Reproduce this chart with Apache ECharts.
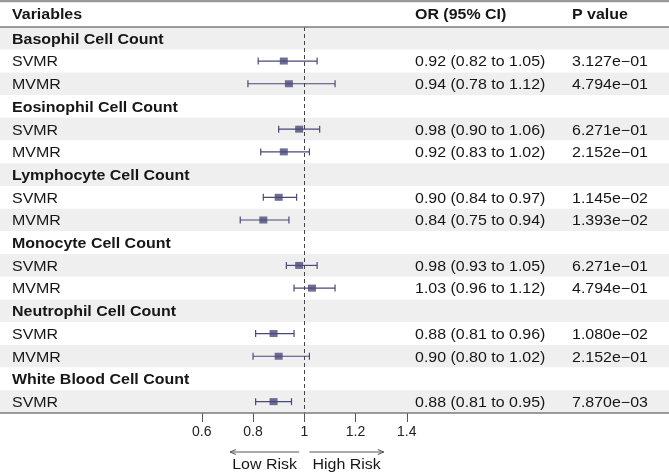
<!DOCTYPE html>
<html>
<head>
<meta charset="utf-8">
<script src="https://cdn.jsdelivr.net/npm/echarts@6/dist/echarts.min.js"></script>
<style>html,body{margin:0;padding:0;background:#fff}#c{width:669px;height:473px}</style>
</head>
<body>
<div id="c"></div>
<script>
const rowLabels = ['Basophil Cell Count','SVMR','MVMR','Eosinophil Cell Count','SVMR','MVMR','Lymphocyte Cell Count','SVMR','MVMR','Monocyte Cell Count','SVMR','MVMR','Neutrophil Cell Count','SVMR','MVMR','White Blood Cell Count','SVMR'];
const isGroup = [1,0,0,1,0,0,1,0,0,1,0,0,1,0,0,1,0];
const orValues = [null,0.92,0.94,null,0.98,0.92,null,0.90,0.84,null,0.98,1.03,null,0.88,0.90,null,0.88];
const lowerCI  = [null,0.82,0.78,null,0.90,0.83,null,0.84,0.75,null,0.93,0.96,null,0.81,0.80,null,0.81];
const upperCI  = [null,1.05,1.12,null,1.06,1.02,null,0.97,0.94,null,1.05,1.12,null,0.96,1.02,null,0.95];
const pValues  = ['','3.127e\u221201','4.794e\u221201','','6.271e\u221201','2.152e\u221201','','1.145e\u221202','1.393e\u221202','','6.271e\u221201','4.794e\u221201','','1.080e\u221202','2.152e\u221201','','7.870e\u221203'];
const headers = ['Variables','OR (95% CI)','P value'];
const xTicks = [0.6,0.8,1,1.2,1.4];
const riskLabels = ['Low Risk','High Risk'];

const FONT = '"Liberation Sans", Arial, Helvetica, sans-serif';
const MARK = '#4a4978';
const TXT = '#161616';
const SX = 1.14;
const TOP = 27, BOTTOM = 60;
const rowIdx = rowLabels.map((_, i) => i);

const chart = echarts.init(document.getElementById('c'), null, {renderer: 'canvas'});

const errData = [], ptData = [];
rowIdx.forEach(i => {
  if (orValues[i] != null) {
    errData.push([lowerCI[i], upperCI[i], i]);
    ptData.push([orValues[i], i]);
  }
});

function txt(x, y, text, font, align) {
  return {type: 'text', x: x, y: y, scaleX: SX,
    style: {x: 0, y: 0, text: text, font: font, fill: TXT, align: align || 'left', verticalAlign: 'middle'}};
}

const option = {
  animation: false,
  backgroundColor: '#fff',
  grid: [
    {left: 0, right: 0, top: TOP, bottom: BOTTOM},
    {left: 201.8, width: 205, top: TOP, bottom: BOTTOM}
  ],
  xAxis: [
    {gridIndex: 0, type: 'value', min: 0, max: 1, show: false},
    {gridIndex: 1, type: 'value', min: 0.6, max: 1.4, interval: 0.2,
     axisLine: {show: false}, splitLine: {show: false},
     axisTick: {show: true, length: 9, lineStyle: {color: '#555', width: 1}, customValues: xTicks},
     axisLabel: {color: '#222', fontSize: 14, fontFamily: FONT, margin: 12, customValues: xTicks,
       formatter: v => String(+(+v).toFixed(1))}}
  ],
  yAxis: [
    {gridIndex: 0, type: 'category', data: rowLabels, inverse: true,
     axisLine: {show: false}, axisTick: {show: false}, axisLabel: {show: false},
     splitLine: {show: false},
     splitArea: {show: true, areaStyle: {color: ['#efefef', '#ffffff']}}},
    {gridIndex: 1, type: 'category', data: rowLabels, inverse: true, show: false}
  ],
  series: [
    {
      type: 'custom', xAxisIndex: 0, yAxisIndex: 0, silent: true,
      data: rowIdx,
      renderItem: function (params, api) {
        const i = api.value(0);
        const y = api.coord([0, i])[1] + 1.5;
        const bold = isGroup[i] === 1;
        const children = [txt(12, y, rowLabels[i], (bold ? 'bold ' : '') + '14px ' + FONT)];
        if (orValues[i] != null) {
          children.push(txt(415, y,
            orValues[i].toFixed(2) + ' (' + lowerCI[i].toFixed(2) + ' to ' + upperCI[i].toFixed(2) + ')',
            '14px ' + FONT));
          children.push(txt(572, y, pValues[i], '14px ' + FONT));
        }
        return {type: 'group', children: children};
      }
    },
    {
      type: 'custom', xAxisIndex: 1, yAxisIndex: 1, silent: true, clip: false,
      data: errData,
      renderItem: function (params, api) {
        const lo = api.coord([api.value(0), api.value(2)]);
        const hi = api.coord([api.value(1), api.value(2)]);
        const h = 3.5;
        const st = {stroke: MARK, lineWidth: 1.2};
        return {type: 'group', children: [
          {type: 'line', shape: {x1: lo[0], y1: lo[1], x2: hi[0], y2: hi[1]}, style: st},
          {type: 'line', shape: {x1: lo[0], y1: lo[1] - h, x2: lo[0], y2: lo[1] + h}, style: st},
          {type: 'line', shape: {x1: hi[0], y1: hi[1] - h, x2: hi[0], y2: hi[1] + h}, style: st}
        ]};
      },
      markLine: {
        silent: true, symbol: 'none', label: {show: false},
        lineStyle: {color: '#444', type: [4, 3], width: 1},
        data: [{xAxis: 1}]
      }
    },
    {
      type: 'scatter', xAxisIndex: 1, yAxisIndex: 1, silent: true,
      symbol: 'rect', symbolSize: [8, 7], itemStyle: {color: MARK},
      data: ptData, z: 5
    }
  ]
};
chart.setOption(option);

function px(v) { return chart.convertToPixel({xAxisIndex: 1}, v); }
const ay = 452;
const lowA = [px(0.98), px(0.71)];
const highA = [px(1.02), px(1.31)];
function arrow(x1, x2) {
  const d = x2 > x1 ? -1 : 1;
  return [
    {type: 'line', shape: {x1: x1, y1: ay, x2: x2, y2: ay}, style: {stroke: '#555', lineWidth: 1}},
    {type: 'polyline', shape: {points: [[x2 + d * 6, ay - 2.5], [x2, ay], [x2 + d * 6, ay + 2.5]]}, style: {stroke: '#555', lineWidth: 1, fill: null}}
  ];
}
chart.setOption({
  graphic: [
    {type: 'line', shape: {x1: 0, y1: 1, x2: 669, y2: 1}, style: {stroke: '#9a9a9a', lineWidth: 2.5}, z: 10},
    {type: 'line', shape: {x1: 0, y1: TOP, x2: 669, y2: TOP}, style: {stroke: '#7a7a7a', lineWidth: 1.5}, z: 10},
    {type: 'line', shape: {x1: 0, y1: 473 - BOTTOM, x2: 669, y2: 473 - BOTTOM}, style: {stroke: '#7a7a7a', lineWidth: 1.5}, z: 10},
    txt(12, 15, headers[0], 'bold 14px ' + FONT),
    txt(415, 15, headers[1], 'bold 14px ' + FONT),
    txt(572, 15, headers[2], 'bold 14px ' + FONT),
    ...arrow(lowA[0], lowA[1]),
    ...arrow(highA[0], highA[1]),
    txt((lowA[0] + lowA[1]) / 2, 465, riskLabels[0], '14px ' + FONT, 'center'),
    txt((highA[0] + highA[1]) / 2, 465, riskLabels[1], '14px ' + FONT, 'center')
  ]
});
</script>
</body>
</html>
